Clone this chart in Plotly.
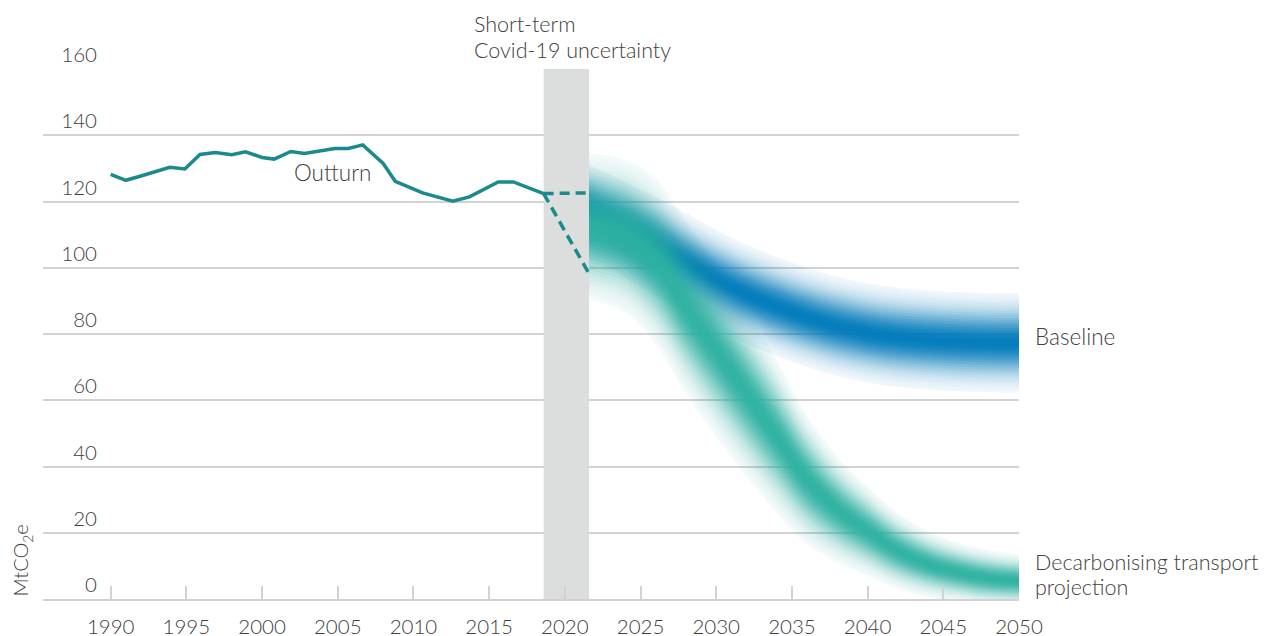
import numpy as np
import plotly.graph_objects as go

# ---------------- data ----------------
outturn_years = [1990, 1991, 1992, 1993, 1993.9, 1994.9, 1995.9, 1996.9, 1998.0, 1998.9,
                 2000.0, 2000.8, 2001.9, 2002.8, 2003.8, 2004.8, 2005.7, 2006.65, 2008.0,
                 2008.8, 2010.6, 2012.6, 2013.7, 2015.6, 2016.6, 2018.6]
outturn_values = [128.2, 126.4, 127.7, 129.0, 130.3, 129.8, 134.2, 134.8, 134.1, 135.0,
                  133.3, 132.8, 135.1, 134.5, 135.3, 136.0, 136.0, 137.1, 131.5,
                  126.1, 122.6, 120.1, 121.4, 125.9, 125.9, 122.4]

covid_years = [2018.6, 2021.6]
covid_flat = [122.4, 122.6]
covid_drop = [122.4, 98.2]
covid_band = [2018.6, 2021.6]

proj_years = [2021.6, 2024, 2026, 2028, 2030, 2032, 2034, 2036, 2038, 2040, 2042, 2044, 2046, 2048, 2050]
baseline_center = [117.0, 111.5, 106.5, 101.5, 96.5, 92.0, 88.3, 85.0, 82.3, 80.3, 79.0, 78.2, 77.7, 77.4, 77.3]
baseline_spread = [14.0, 14.5, 15.0, 15.0, 15.0, 15.0, 15.0, 15.0, 15.0, 15.0, 15.0, 15.0, 15.0, 15.0, 15.0]
decarb_center = [112.5, 109.5, 102.0, 88.0, 75.0, 62.0, 49.0, 36.0, 27.0, 20.5, 14.5, 10.5, 8.0, 6.3, 5.5]
decarb_spread = [22.0, 23.0, 25.0, 26.0, 26.0, 25.0, 23.0, 19.5, 16.0, 13.5, 11.5, 10.0, 9.0, 8.5, 8.0]

x_ticks = [1990, 1995, 2000, 2005, 2010, 2015, 2020, 2025, 2030, 2035, 2040, 2045, 2050]
y_ticks = [0, 20, 40, 60, 80, 100, 120, 140, 160]

# ---------------- styles ----------------
FONT = "Lato"
TEXT = "#404040"
GRID = "#d2d2d2"
TEAL_LINE = "rgb(27,138,140)"
BLUE = (0, 122, 187)
TEAL = (44, 178, 162)
X_RANGE = [1985.53, 2050]

fig = go.Figure()


def add_band(years, center, spread, rgb, n=20, peak=0.97, sigma=0.58):
    c = np.array(center, dtype=float)
    s = np.array(spread, dtype=float)
    fr = [1 - k / n for k in range(n)] + [0.0]
    prev = 0.0
    for k in range(n):
        umid = (fr[k] + fr[k + 1]) / 2
        target = peak * np.exp(-(umid / sigma) ** 2)
        a = 1 - (1 - target) / (1 - prev)
        prev = target
        f = fr[k]
        fig.add_trace(go.Scatter(x=years, y=c - f * s, mode="lines",
                                 line=dict(width=0, shape="spline"),
                                 hoverinfo="skip", showlegend=False))
        fig.add_trace(go.Scatter(x=years, y=c + f * s, mode="lines",
                                 line=dict(width=0, shape="spline"),
                                 fill="tonexty",
                                 fillcolor=f"rgba({rgb[0]},{rgb[1]},{rgb[2]},{max(a, 0):.4f})",
                                 hoverinfo="skip", showlegend=False))


add_band(proj_years, baseline_center, baseline_spread, BLUE)
add_band(proj_years, decarb_center, decarb_spread, TEAL)

fig.add_trace(go.Scatter(x=outturn_years, y=outturn_values, mode="lines",
                         line=dict(color=TEAL_LINE, width=3.5),
                         hoverinfo="skip", showlegend=False))
fig.add_trace(go.Scatter(x=covid_years, y=covid_flat, mode="lines",
                         line=dict(color=TEAL_LINE, width=3.5, dash="10px,6px"),
                         hoverinfo="skip", showlegend=False))
fig.add_trace(go.Scatter(x=covid_years, y=covid_drop, mode="lines",
                         line=dict(color=TEAL_LINE, width=3.5, dash="10px,6px"),
                         hoverinfo="skip", showlegend=False))
# empty trace so the tick-mark overlay axis is drawn
fig.add_trace(go.Scatter(x=x_ticks, y=[None] * len(x_ticks), xaxis="x2", mode="lines",
                         hoverinfo="skip", showlegend=False))

fig.add_shape(type="rect", xref="x", yref="y",
              x0=covid_band[0], x1=covid_band[1], y0=y_ticks[0], y1=y_ticks[-1],
              fillcolor="#dcdddd", line_width=0, layer="between")


def label(text, x, y, size=22.5, xshift=0, yref="y"):
    fig.add_annotation(x=x, y=y, yref=yref, xshift=xshift, text=text, showarrow=False,
                       xanchor="left", yanchor="middle", align="left",
                       font=dict(family=FONT, size=size, color=TEXT, weight=300))


label("Outturn", 2002.0, 128.8)
label("Short-term", 2013.85, 1.0849, size=21.5, yref="paper")
label("Covid-19 uncertainty", 2013.85, 1.0358, size=21.5, yref="paper")
label("Baseline", 2050, 79.2, xshift=14)
label("Decarbonising transport", 2050, 11.3, size=21.5, xshift=14)
label("projection", 2050, 3.5, size=21.5, xshift=14)

fig.add_annotation(xref="paper", x=0, xshift=-21, y=11.6, text="MtCO<sub>2</sub>e",
                   textangle=-90, showarrow=False, xanchor="center", yanchor="middle",
                   font=dict(family=FONT, size=20, color=TEXT, weight=300))

tick_font = dict(family=FONT, size=20.5, color=TEXT, weight=300)
fig.update_layout(
    width=1279, height=636,
    margin=dict(l=35, r=268, t=61, b=45, autoexpand=False),
    paper_bgcolor="white", plot_bgcolor="white",
    font=dict(family=FONT, size=19, color=TEXT),
    showlegend=False,
    xaxis=dict(range=X_RANGE, tickvals=x_ticks, ticks="outside", ticklen=9,
               tickcolor="rgba(0,0,0,0)", showgrid=False, zeroline=False,
               showline=True, linecolor=GRID, linewidth=1.5, automargin=False,
               tickfont=tick_font),
    xaxis2=dict(range=X_RANGE, overlaying="x", anchor="y", side="bottom",
                tickvals=x_ticks, ticks="inside", ticklen=13, tickwidth=1.5,
                tickcolor=GRID, showticklabels=False, showgrid=False,
                zeroline=False, showline=False, automargin=False),
    yaxis=dict(range=[0, 160], tickvals=y_ticks, showgrid=True, gridcolor=GRID,
               gridwidth=1.5, zeroline=False, showline=False, ticks="",
               anchor="free", position=0.0553, ticklabelshift=-14, automargin=False,
               tickfont=tick_font),
)

fig.write_html("out.html")
